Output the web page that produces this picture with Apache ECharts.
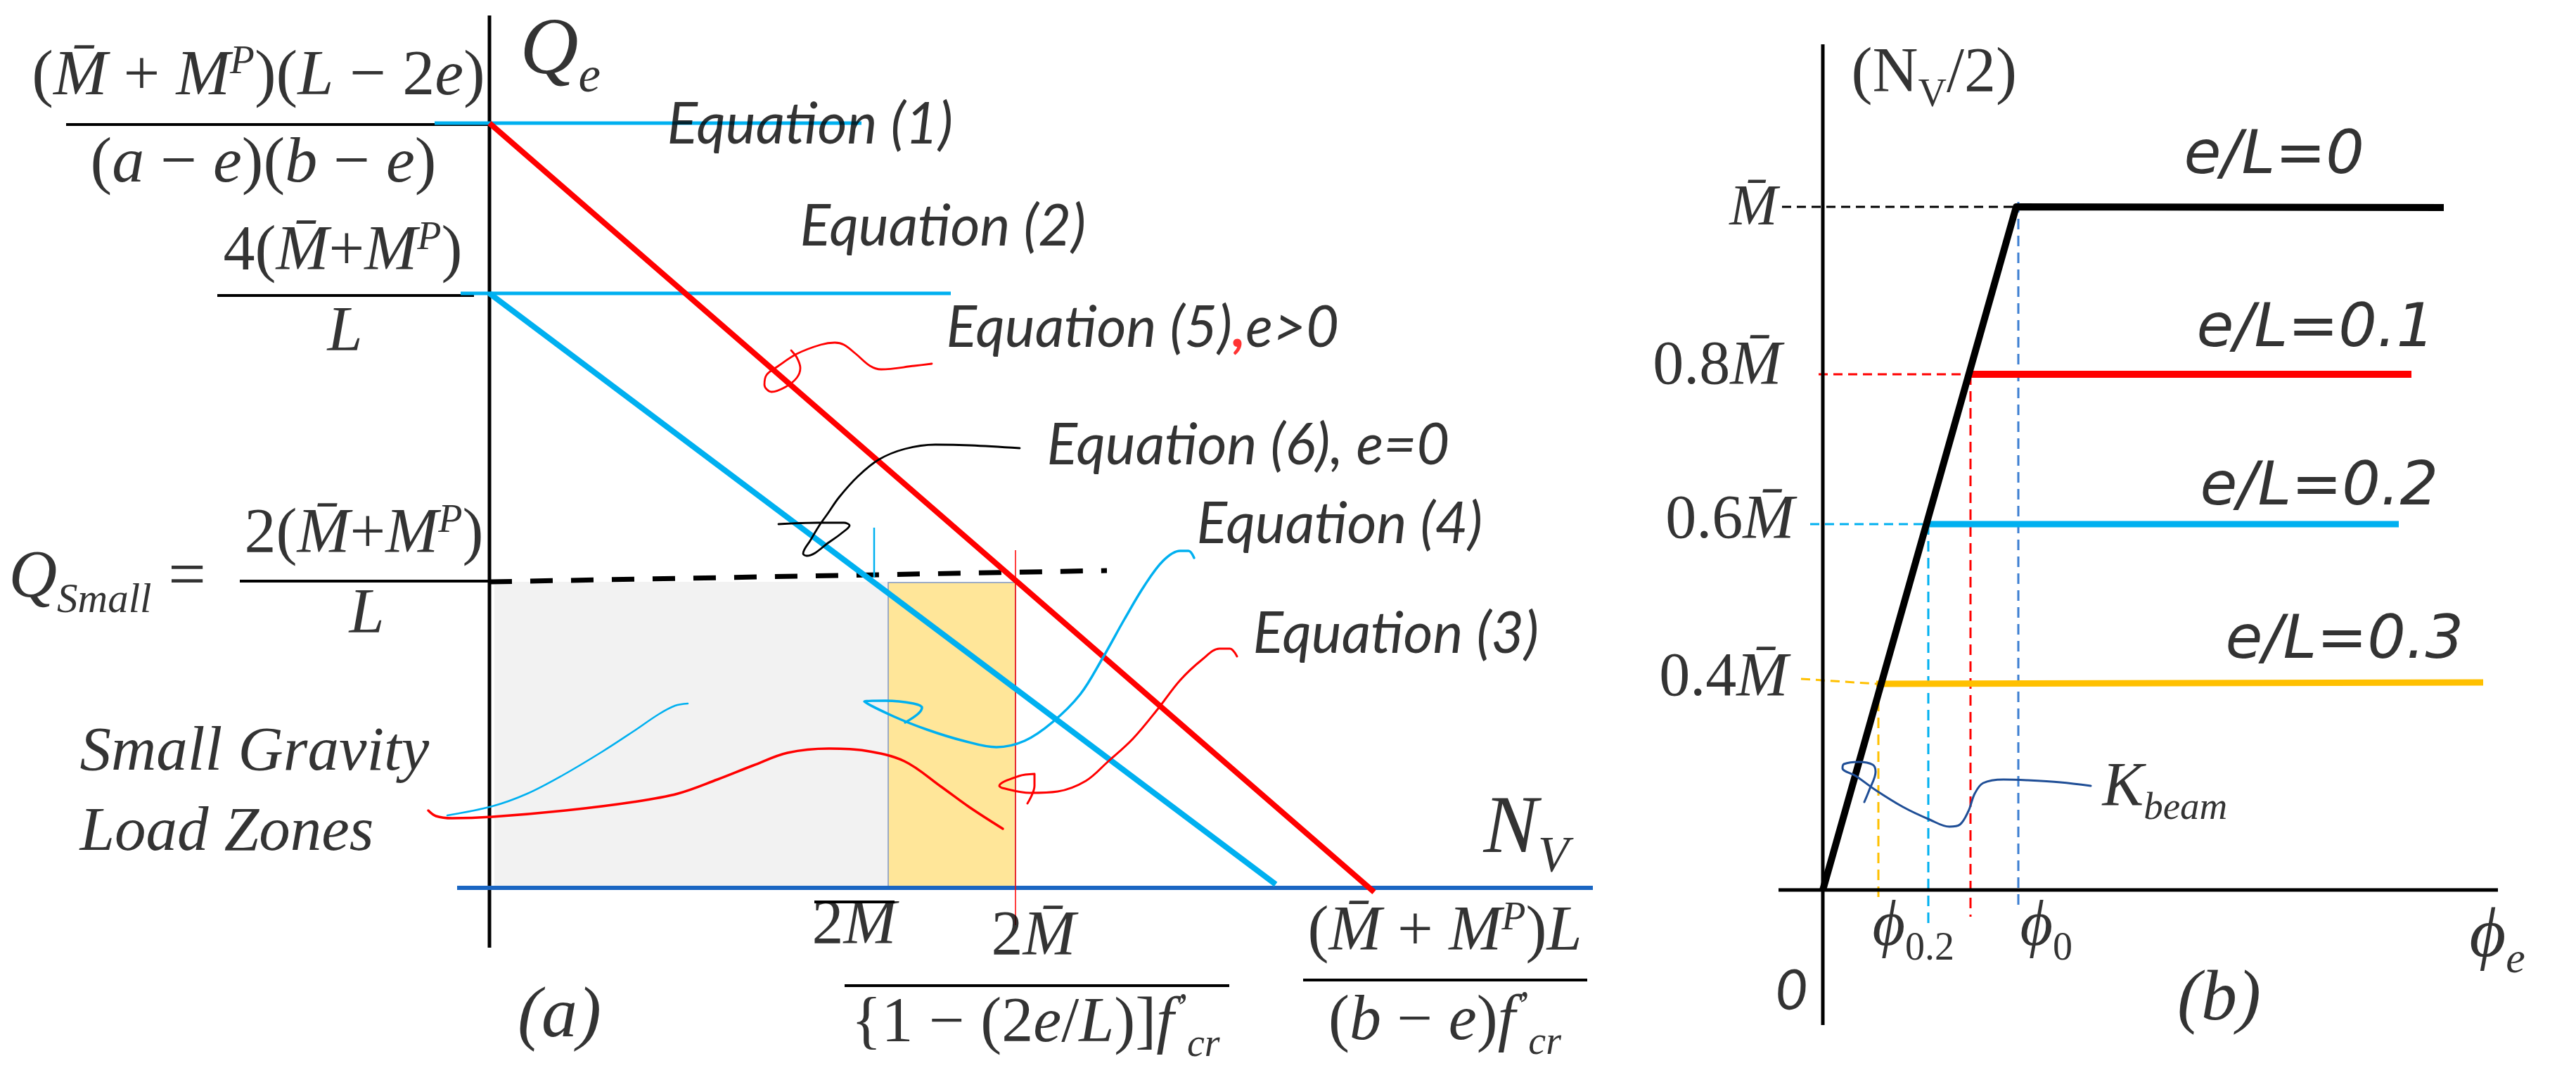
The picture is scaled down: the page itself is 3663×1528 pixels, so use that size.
<!DOCTYPE html>
<html><head><meta charset="utf-8">
<script src="https://cdn.jsdelivr.net/npm/echarts@6/dist/echarts.min.js"></script>
<style>html,body{margin:0;padding:0;background:#fff}#c{width:3663px;height:1528px}</style>
</head><body><div id="c"></div>
<script>
// ===== DATA (diagram units) =====
// Panel (a): horizontal = N_V, vertical = Q_e
const qeAxis = [[0, 12.40], [0, -0.85]];
const nvAxis = [[-0.46, 0], [15.69, 0]];
const eq1Level = [[-0.78, 10.87], [5.29, 10.87]];
const eq2Level = [[-0.41, 8.45], [6.56, 8.45]];
const eq5Line = [[0, 10.87], [12.58, -0.06]];
const eq6Line = [[0, 8.45], [11.18, 0.05]];
const qSmallLine = [[0, 4.35], [8.78, 4.51]];
const zoneSmall = [0.07, 0, 5.67, 4.35];
const zoneMid = [5.67, 0, 7.48, 4.34];
const tick2Me = [[7.48, 4.80], [7.48, -0.53]];
const tick2M = [[5.47, 5.12], [5.47, 4.41]];
const fracBars = [
  [[-6.53, 10.85], [0.01, 10.85]],
  [[-3.87, 8.42], [-0.22, 8.42]],
  [[-3.55, 4.36], [0, 4.36]],
  [[4.62, -0.20], [5.76, -0.20]],
  [[5.05, -1.39], [10.52, -1.39]],
  [[11.57, -1.31], [15.61, -1.31]]
];
const curveEq5 = [[6.29,7.45],[6.04,7.42],[5.57,7.37],[5.41,7.42],[5.21,7.59],[5.04,7.72],[4.91,7.75],[4.71,7.72],[4.37,7.59],[4.11,7.42],[3.94,7.29],[3.91,7.15],[4.01,7.05],[4.21,7.12],[4.37,7.25],[4.42,7.39],[4.37,7.54],[4.29,7.64]];
const curveEq6 = [[7.54,6.25],[6.84,6.29],[6.34,6.30],[5.91,6.24],[5.54,6.09],[5.24,5.85],[4.97,5.55],[4.81,5.32],[4.69,5.15],[4.57,4.95],[4.46,4.75],[4.51,4.72],[4.84,4.92],[5.07,5.09],[5.12,5.15],[5.04,5.19],[4.67,5.19],[4.11,5.17]];
const curveEq4 = [[10.02,4.69],[9.94,4.79],[9.82,4.79],[9.58,4.65],[9.31,4.29],[9.03,3.82],[8.71,3.25],[8.40,2.75],[8.00,2.35],[7.61,2.09],[7.21,2.00],[6.74,2.09],[6.22,2.25],[5.74,2.44],[5.33,2.65],[5.63,2.66],[6.03,2.62],[6.15,2.56],[6.09,2.47],[5.91,2.35]];
const curveEq3 = [[10.63,3.29],[10.53,3.40],[10.38,3.40],[10.14,3.25],[9.82,2.95],[9.51,2.55],[9.15,2.12],[8.79,1.79],[8.48,1.52],[8.08,1.37],[7.69,1.35],[7.29,1.42],[7.25,1.45],[7.53,1.59],[7.75,1.62],[7.75,1.45],[7.65,1.20]];
const curveZoneCyan = [[-0.60,1.03],[0.04,1.16],[0.54,1.34],[1.04,1.60],[1.61,1.94],[2.04,2.22],[2.41,2.47],[2.64,2.59],[2.82,2.62]];
const curveZoneRed = [[-0.87,1.10],[-0.76,1.02],[-0.53,0.99],[0.04,1.01],[1.08,1.10],[2.04,1.22],[2.68,1.34],[3.24,1.54],[3.75,1.74],[4.24,1.92],[4.83,1.98],[5.34,1.95],[5.90,1.80],[6.42,1.44],[6.82,1.15],[7.30,0.84]];

// Panel (b): horizontal = phi_e, vertical = N_V/2
const nAxisB = [[0, 12.02], [0, -1.92]];
const phiAxis = [[-0.63, 0], [9.60, 0]];
const beamE00 = [[0, 0], [2.75, 9.71], [8.83, 9.70]];
const levelE01 = [[2.08, 7.33], [8.37, 7.33]];
const levelE02 = [[1.45, 5.20], [8.19, 5.20]];
const levelE03 = [[0.76, 2.93], [9.39, 2.95]];
const guideMbar = [[-0.58, 9.71], [2.75, 9.71]];
const guide08 = [[-0.06, 7.33], [2.08, 7.33]];
const guide06 = [[-0.18, 5.20], [1.45, 5.20]];
const guide04 = [[-0.31, 3.00], [0.76, 2.93]];
const phi03 = [[0.79, 2.93], [0.79, -0.12]];
const phi02 = [[1.50, 5.20], [1.50, -0.47]];
const phi01 = [[2.10, 7.33], [2.10, -0.38]];
const phi00 = [[2.78, 9.78], [2.78, -0.22]];
const curveK = [[0.59,1.25],[0.66,1.42],[0.75,1.68],[0.71,1.78],[0.51,1.82],[0.30,1.79],[0.28,1.73],[0.47,1.62],[0.75,1.42],[1.14,1.18],[1.52,1.00],[1.80,0.90],[1.95,0.93],[2.07,1.12],[2.16,1.37],[2.28,1.52],[2.57,1.57],[2.90,1.56],[3.38,1.53],[3.81,1.48]];

// ===== STYLE / LAYOUT =====
const SERIF = "'Liberation Serif','DejaVu Serif',serif";
const LATO = "Lato,'Open Sans',sans-serif";
const VERD = "'DejaVu Sans',Verdana,sans-serif";
const RED = '#ff0000', CYAN = '#00b0f0', ORANGE = '#ffc000', AXBLUE = '#1a66c2';
const EQ_FS = 81, VD_FS = 86;

function mathRich(fs) {
  const b = {fontFamily: SERIF, fontSize: fs, lineHeight: fs, color: '#000'};
  const s = Math.round(fs * 0.62);
  return {
    i: Object.assign({}, b, {fontStyle: 'italic'}),
    n: Object.assign({}, b, {fontStyle: 'normal'}),
    sp: Object.assign({}, b, {fontStyle: 'italic', fontSize: s, verticalAlign: 'top', height: fs * 0.56}),
    sb: Object.assign({}, b, {fontStyle: 'italic', fontSize: s, verticalAlign: 'bottom', height: fs * 0.34}),
    sbn: Object.assign({}, b, {fontStyle: 'normal', fontSize: s, verticalAlign: 'bottom', height: fs * 0.34}),
    t: {fontFamily: LATO, fontStyle: 'italic', fontSize: EQ_FS, lineHeight: EQ_FS, color: '#000'},
    rc: {fontFamily: LATO, fontStyle: 'italic', fontWeight: 'bold', fontSize: EQ_FS, lineHeight: EQ_FS, color: RED},
    tm: {fontFamily: SERIF, fontStyle: 'italic', fontSize: 89, lineHeight: 89, color: '#000'},
    vd: {fontFamily: VERD, fontStyle: 'italic', fontSize: VD_FS, lineHeight: VD_FS, color: '#000'},
    lt: {fontFamily: LATO, fontStyle: 'italic', fontSize: 80, lineHeight: 80, color: '#000'}
  };
}

const labelsA = [
  {at: [0.44, 11.88], align: 'left', fs: 115, text: '{i|Q}{sb|e}'},
  {at: [-3.28, 11.52], align: 'center', fs: 92, text: '{n|(}{i|M\u0304}{n| + }{i|M}{sp|P}{n|)(}{i|L}{n| − 2}{i|e}{n|)}'},
  {at: [-3.21, 10.28], align: 'center', fs: 92, text: '{n|(}{i|a}{n| − }{i|e}{n|)(}{i|b}{n| − }{i|e}{n|)}'},
  {at: [-2.08, 9.02], align: 'center', fs: 90, text: '{n|4(}{i|M\u0304}{n|+}{i|M}{sp|P}{n|)}'},
  {at: [-2.05, 7.87], align: 'center', fs: 90, text: '{i|L}'},
  {at: [-6.83, 4.38], align: 'left', fs: 95, text: '{i|Q}{sb|Small}{n| =}'},
  {at: [-1.78, 5.00], align: 'center', fs: 90, text: '{n|2(}{i|M\u0304}{n|+}{i|M}{sp|P}{n|)}'},
  {at: [-1.74, 3.86], align: 'center', fs: 90, text: '{i|L}'},
  {at: [14.14, 0.81], align: 'left', fs: 116, text: '{i|N}{sb|V}'},
  {at: [5.19, -0.56], align: 'center', fs: 90, text: '{n|2}{i|M}'},
  {at: [7.74, -0.72], align: 'center', fs: 90, text: '{n|2}{i|M\u0304}'},
  {at: [7.77, -1.95], align: 'center', fs: 90, text: '{n|{1 − (2}{i|e}{n|/}{i|L}{n|)]}{i|f}{sp|’}{sb|cr}'},
  {at: [13.59, -0.65], align: 'center', fs: 90, text: '{n|(}{i|M\u0304}{n| + }{i|M}{sp|P}{n|)}{i|L}'},
  {at: [13.59, -1.92], align: 'center', fs: 90, text: '{n|(}{i|b}{n| − }{i|e}{n|)}{i|f}{sp|’}{sb|cr}'},
  {at: [1.00, -1.85], align: 'center', fs: 102, text: '{i|(a)}'},
  {at: [2.53, 10.84], align: 'left', fs: EQ_FS, text: '{t|Equation (1)}'},
  {at: [4.42, 9.39], align: 'left', fs: EQ_FS, text: '{t|Equation (2)}'},
  {at: [6.50, 7.95], align: 'left', fs: EQ_FS, text: '{t|Equation (5)}{rc|,}{t|e>0}'},
  {at: [7.93, 6.28], align: 'left', fs: EQ_FS, text: '{t|Equation (6), e=0}'},
  {at: [10.06, 5.16], align: 'left', fs: EQ_FS, text: '{t|Equation (4)}'},
  {at: [10.86, 3.60], align: 'left', fs: EQ_FS, text: '{t|Equation (3)}'},
  {at: [-5.82, 1.91], align: 'left', fs: 89, text: '{tm|Small Gravity}'},
  {at: [-5.82, 0.77], align: 'left', fs: 89, text: '{tm|Load Zones}'}
];
const labelsB = [
  {at: [0.41, 11.58], align: 'left', fs: 90, text: '{n|(N}{sbn|V}{n|/2)}'},
  {at: [-0.64, 9.67], align: 'right', fs: 82, text: '{i|M\u0304}'},
  {at: [-0.58, 7.43], align: 'right', fs: 88, text: '{n|0.8}{i|M\u0304}'},
  {at: [-0.40, 5.24], align: 'right', fs: 88, text: '{n|0.6}{i|M\u0304}'},
  {at: [-0.49, 3.00], align: 'right', fs: 88, text: '{n|0.4}{i|M\u0304}'},
  {at: [5.14, 10.41], align: 'left', fs: VD_FS, text: '{vd|e/L=0}'},
  {at: [5.32, 7.95], align: 'left', fs: VD_FS, text: '{vd|e/L=0.1}'},
  {at: [5.37, 5.70], align: 'left', fs: VD_FS, text: '{vd|e/L=0.2}'},
  {at: [5.73, 3.52], align: 'left', fs: VD_FS, text: '{vd|e/L=0.3}'},
  {at: [0.71, -0.55], align: 'left', fs: 90, text: '{i|ϕ}{sbn|0.2}'},
  {at: [2.81, -0.55], align: 'left', fs: 90, text: '{i|ϕ}{sbn|0}'},
  {at: [9.20, -0.68], align: 'left', fs: 100, text: '{i|ϕ}{sb|e}'},
  {at: [-0.44, -1.45], align: 'center', fs: 80, text: '{lt|0}'},
  {at: [5.64, -1.58], align: 'center', fs: 102, text: '{i|(b)}'},
  {at: [3.98, 1.44], align: 'left', fs: 88, text: '{i|K}{sb|beam}'}
];

function line(g, data, color, width, extra) {
  return Object.assign({
    type: 'line', xAxisIndex: g, yAxisIndex: g, data: data, symbol: 'none', showSymbol: false,
    silent: true, clip: false, animation: false, z: 5,
    lineStyle: {color: color, width: width, cap: 'butt', join: 'round'}
  }, extra || {});
}
function dashed(g, data, color, width, dash, z) {
  const s = line(g, data, color, width, {z: z || 4});
  s.lineStyle.type = dash;
  return s;
}
function curve(g, data, color, width) {
  const s = line(g, data, color, width, {smooth: 0.35, z: 7});
  s.lineStyle.cap = 'round';
  return s;
}
function labelSeries(g, list) {
  return {
    type: 'scatter', xAxisIndex: g, yAxisIndex: g, symbolSize: 1, silent: true, clip: false, animation: false, z: 20,
    itemStyle: {color: 'rgba(0,0,0,0)'},
    label: {show: true, position: [0, 0], verticalAlign: 'middle', formatter: p => list[p.dataIndex].text},
    data: list.map(l => ({value: l.at, label: {align: l.align, rich: mathRich(l.fs)}}))
  };
}
const rectStyles = [
  {fill: '#f2f2f2', stroke: null, lineWidth: 0},
  {fill: '#ffe699', stroke: '#7f96c4', lineWidth: 1.5}
];

const series = [
  // panel (a)
  {
    type: 'custom', xAxisIndex: 0, yAxisIndex: 0, silent: true, animation: false, z: 1,
    data: [zoneSmall, zoneMid],
    renderItem: (params, api) => {
      const p0 = api.coord([api.value(0), api.value(1)]);
      const p1 = api.coord([api.value(2), api.value(3)]);
      const st = rectStyles[params.dataIndex];
      return {type: 'rect', shape: {x: Math.min(p0[0], p1[0]), y: Math.min(p0[1], p1[1]),
        width: Math.abs(p1[0] - p0[0]), height: Math.abs(p1[1] - p0[1])},
        style: {fill: st.fill, stroke: st.stroke, lineWidth: st.lineWidth}};
    }
  },
  dashed(0, qSmallLine, '#000', 7, [32, 26], 4),
  line(0, qeAxis, '#000', 5),
  line(0, nvAxis, AXBLUE, 6),
  ...fracBars.map(b => line(0, b, '#000', 4)),
  line(0, eq1Level, CYAN, 5, {z: 6}),
  line(0, eq2Level, CYAN, 5, {z: 6}),
  line(0, tick2Me, RED, 1.5, {z: 6}),
  line(0, tick2M, CYAN, 2.5, {z: 6}),
  line(0, eq6Line, CYAN, 8, {z: 6}),
  line(0, eq5Line, RED, 8, {z: 6}),
  curve(0, curveEq5, RED, 2.8),
  curve(0, curveEq6, '#000', 2.8),
  curve(0, curveEq4, CYAN, 3.5),
  curve(0, curveEq3, RED, 3),
  curve(0, curveZoneCyan, CYAN, 2.5),
  curve(0, curveZoneRed, RED, 3.5),
  labelSeries(0, labelsA),
  // panel (b)
  line(1, nAxisB, '#000', 5),
  line(1, phiAxis, '#000', 5),
  dashed(1, guideMbar, '#000', 3, [13, 8]),
  dashed(1, guide08, RED, 3, [13, 8]),
  dashed(1, guide06, CYAN, 3, [13, 8]),
  dashed(1, guide04, ORANGE, 3, [13, 8]),
  dashed(1, phi03, ORANGE, 3, [15, 9]),
  dashed(1, phi02, CYAN, 3, [15, 9]),
  dashed(1, phi01, RED, 3, [15, 9]),
  dashed(1, phi00, '#3d7fd1', 3, [15, 9]),
  line(1, levelE03, ORANGE, 9, {z: 6}),
  line(1, levelE02, CYAN, 9, {z: 6}),
  line(1, levelE01, RED, 10, {z: 6}),
  line(1, beamE00, '#000', 10, {z: 6}),
  curve(1, curveK, '#1f4e96', 3),
  labelSeries(1, labelsB)
];

const chart = echarts.init(document.getElementById('c'), null, {renderer: 'canvas'});
chart.setOption({
  animation: false,
  backgroundColor: '#ffffff',
  grid: [
    {left: 96, top: 62, width: 2300, height: 1400},
    {left: 2392, top: 65, width: 1200, height: 1400}
  ],
  xAxis: [
    {type: 'value', gridIndex: 0, min: -6, max: 17, show: false},
    {type: 'value', gridIndex: 1, min: -2, max: 10, show: false}
  ],
  yAxis: [
    {type: 'value', gridIndex: 0, min: -2, max: 12, show: false},
    {type: 'value', gridIndex: 1, min: -2, max: 12, show: false}
  ],
  series: series
});
</script></body></html>
